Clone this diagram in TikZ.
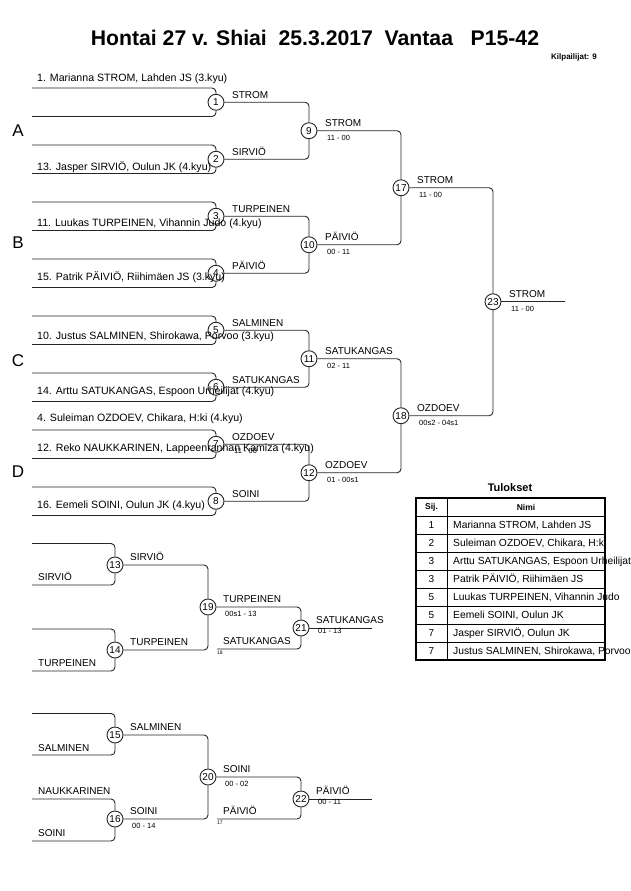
\documentclass[tikz,border=0pt]{standalone}
\usepackage{fontspec}
\setmainfont{Liberation Sans}
\begin{document}
\begin{tikzpicture}[x=1pt,y=-1pt,
  br/.style={draw=black!85, line width=0.9pt, rounded corners=4pt},
  mc/.style={circle, draw=black!85, line width=0.9pt, minimum size=16pt, inner sep=0pt, font=\fontsize{10}{10}\selectfont},
  nm/.style={anchor=base west, inner sep=0pt, font=\fontsize{10}{11}\selectfont},
  cp/.style={anchor=base west, inner sep=0pt, font=\fontsize{10.6}{11}\selectfont},
  sc/.style={anchor=base west, inner sep=0pt, font=\fontsize{7.5}{8}\selectfont},
  tn/.style={anchor=base west, inner sep=0pt, font=\fontsize{5}{5}\selectfont},
  grp/.style={anchor=center, inner sep=0pt, font=\fontsize{17}{17}\selectfont},
  tb/.style={anchor=base west, inner sep=0pt, font=\fontsize{10.3}{11}\selectfont},
  tc/.style={anchor=center, inner sep=0pt, font=\fontsize{10}{11}\selectfont},
  th/.style={anchor=center, inner sep=0pt, font=\fontsize{8.5}{10}\selectfont\bfseries},
]
\useasboundingbox (0,0) rectangle (630,891);

% ---------- title ----------
\node[inner sep=0pt, font=\fontsize{21.2}{21}\selectfont\bfseries] (title) at (315,38) {Hontai 27 v. Shiai\ \ 25.3.2017\ \ Vantaa\ \ \ P15-42};
\node[anchor=east, inner sep=0pt, font=\fontsize{8}{8}\selectfont\bfseries] (kilp) at (597,57) {Kilpailijat: 9};

% ---------- main bracket circles ----------
\node[mc] (m1) at (216,102.25) {1};
\node[mc] (m2) at (216,159.25) {2};
\node[mc] (m3) at (216,216.25) {3};
\node[mc] (m4) at (216,273.25) {4};
\node[mc] (m5) at (216,330.25) {5};
\node[mc] (m6) at (216,387.25) {6};
\node[mc] (m7) at (216,444.25) {7};
\node[mc] (m8) at (216,501.25) {8};
\node[mc] (m9) at (309,130.75) {9};
\node[mc] (m10) at (309,244.75) {10};
\node[mc] (m11) at (309,358.75) {11};
\node[mc] (m12) at (309,472.75) {12};
\node[mc] (m17) at (401,187.75) {17};
\node[mc] (m18) at (401,415.75) {18};
\node[mc] (m23) at (493,301.75) {23};

% free ends of first round
\foreach \k/\t in {1/88,2/145,3/202,4/259,5/316,6/373,7/430,8/487}{
  \coordinate (s\k t) at (32,\t);
  \coordinate (s\k b) at (32,\t+28.5);
}
\foreach \k in {1,...,8}{
  \draw[br] (s\k t) -| (m\k);
  \draw[br] (s\k b) -| (m\k);
}
\draw[br] (m1) -| (m9);  \draw[br] (m2) -| (m9);
\draw[br] (m3) -| (m10); \draw[br] (m4) -| (m10);
\draw[br] (m5) -| (m11); \draw[br] (m6) -| (m11);
\draw[br] (m7) -| (m12); \draw[br] (m8) -| (m12);
\draw[br] (m9) -| (m17);  \draw[br] (m10) -| (m17);
\draw[br] (m11) -| (m18); \draw[br] (m12) -| (m18);
\draw[br] (m17) -| (m23); \draw[br] (m18) -| (m23);
\coordinate (f23) at (565,301.75);
\draw[br] (m23) -- (f23);

% group letters
\node[grp] (gA) at (18,131) {A};
\node[grp] (gB) at (18,243) {B};
\node[grp] (gC) at (18,361) {C};
\node[grp] (gD) at (18,472) {D};

% competitors
\node[cp] (c1) at (37,81.5) {1. Marianna STROM, Lahden JS (3.kyu)};
\node[cp] (c13) at (37,170.5) {13. Jasper SIRVIÖ, Oulun JK (4.kyu)};
\node[cp] (c11) at (37,226.5) {11. Luukas TURPEINEN, Vihannin Judo (4.kyu)};
\node[cp] (c15) at (37,280.5) {15. Patrik PÄIVIÖ, Riihimäen JS (3.kyu)};
\node[cp] (c10) at (37,339.5) {10. Justus SALMINEN, Shirokawa, Porvoo (3.kyu)};
\node[cp] (c14) at (37,394.5) {14. Arttu SATUKANGAS, Espoon Urheilijat (4.kyu)};
\node[cp] (c4) at (37,421.5) {4. Suleiman OZDOEV, Chikara, H:ki (4.kyu)};
\node[cp] (c12) at (37,451.5) {12. Reko NAUKKARINEN, Lappeenrannan Kamiza (4.kyu)};
\node[cp] (c16) at (37,508) {16. Eemeli SOINI, Oulun JK (4.kyu)};

% round 1 winners
\node[nm] (w1) at (232,98.25) {STROM};
\node[nm] (w2) at (232,155.25) {SIRVIÖ};
\node[nm] (w3) at (232,212.25) {TURPEINEN};
\node[nm] (w4) at (232,269.25) {PÄIVIÖ};
\node[nm] (w5) at (232,326.25) {SALMINEN};
\node[nm] (w6) at (232,383.25) {SATUKANGAS};
\node[nm] (w7) at (232,440.25) {OZDOEV};
\node[sc] (s7) at (234,453.5) {11 - 00};
\node[nm] (w8) at (232,497.25) {SOINI};

% round 2 winners
\node[nm] (w9) at (325,126.25) {STROM};
\node[sc] (s9) at (327,140) {11 - 00};
\node[nm] (w10) at (325,240.25) {PÄIVIÖ};
\node[sc] (s10) at (327,254) {00 - 11};
\node[nm] (w11) at (325,354.25) {SATUKANGAS};
\node[sc] (s11) at (327,368) {02 - 11};
\node[nm] (w12) at (325,468.25) {OZDOEV};
\node[sc] (s12) at (327,482) {01 - 00s1};

% round 3 and final
\node[nm] (w17) at (417,183.25) {STROM};
\node[sc] (s17) at (419,197) {11 - 00};
\node[nm] (w18) at (417,411.25) {OZDOEV};
\node[sc] (s18) at (419,425) {00s2 - 04s1};
\node[nm] (w23) at (509,297.25) {STROM};
\node[sc] (s23) at (511,311) {11 - 00};

% ---------- repechage 1 ----------
\node[mc] (m13) at (115,565) {13};
\node[mc] (m14) at (115,650) {14};
\node[mc] (m19) at (208,607) {19};
\node[mc] (m21) at (301,628) {21};
\coordinate (r13t) at (32,543.5); \coordinate (r13b) at (32,585);
\coordinate (r14t) at (32,629);   \coordinate (r14b) at (32,671);
\coordinate (r21b) at (217,649);
\coordinate (f21) at (372,628);
\draw[br] (r13t) -| (m13); \draw[br] (r13b) -| (m13);
\draw[br] (r14t) -| (m14); \draw[br] (r14b) -| (m14);
\draw[br] (m13) -| (m19); \draw[br] (m14) -| (m19);
\draw[br] (m19) -| (m21); \draw[br] (r21b) -| (m21);
\draw[br] (m21) -- (f21);
\node[nm] (e13) at (38,580.2) {SIRVIÖ};
\node[nm] (e14) at (38,666.5) {TURPEINEN};
\node[nm] (w13) at (130,560.5) {SIRVIÖ};
\node[nm] (w14) at (130,645.5) {TURPEINEN};
\node[nm] (w19) at (223,602.5) {TURPEINEN};
\node[sc] (s19) at (225,616.2) {00s1 - 13};
\node[nm] (e18) at (223,644.5) {SATUKANGAS};
\node[tn] (n18) at (217,654.5) {18};
\node[nm] (w21) at (316,623.5) {SATUKANGAS};
\node[sc] (s21) at (318,633.5) {01 - 13};

% ---------- repechage 2 ----------
\node[mc] (m15) at (115,735) {15};
\node[mc] (m16) at (115,819) {16};
\node[mc] (m20) at (208,777) {20};
\node[mc] (m22) at (301,799) {22};
\coordinate (r15t) at (32,713.5); \coordinate (r15b) at (32,755);
\coordinate (r16t) at (32,799);   \coordinate (r16b) at (32,841);
\coordinate (r22b) at (217,819);
\coordinate (f22) at (372,799);
\draw[br] (r15t) -| (m15); \draw[br] (r15b) -| (m15);
\draw[br] (r16t) -| (m16); \draw[br] (r16b) -| (m16);
\draw[br] (m15) -| (m20); \draw[br] (m16) -| (m20);
\draw[br] (m20) -| (m22); \draw[br] (r22b) -| (m22);
\draw[br] (m22) -- (f22);
\node[nm] (e15) at (38,751.8) {SALMINEN};
\node[nm] (e16a) at (38,794.2) {NAUKKARINEN};
\node[nm] (e16b) at (38,836.8) {SOINI};
\node[nm] (w15) at (130,730.5) {SALMINEN};
\node[nm] (w16) at (130,814.5) {SOINI};
\node[sc] (s16) at (132,828.2) {00 - 14};
\node[nm] (w20) at (223,772.5) {SOINI};
\node[sc] (s20) at (225,786.2) {00 - 02};
\node[nm] (e17) at (223,814.5) {PÄIVIÖ};
\node[tn] (n17) at (217,824.5) {17};
\node[nm] (w22) at (316,794.5) {PÄIVIÖ};
\node[sc] (s22) at (318,804.5) {00 - 11};

% ---------- results table ----------
\node[inner sep=0pt, font=\fontsize{11}{11}\selectfont\bfseries] (tul) at (510,488) {Tulokset};
\node[th] (hs) at (431.5,507) {Sij.};
\node[th] (hn) at (526,507) {Nimi};
\foreach \i/\p/\n in {1/1/{Marianna STROM, Lahden JS},
                      2/2/{Suleiman OZDOEV, Chikara, H:ki},
                      3/3/{Arttu SATUKANGAS, Espoon Urheilijat},
                      4/3/{Patrik PÄIVIÖ, Riihimäen JS},
                      5/5/{Luukas TURPEINEN, Vihannin Judo},
                      6/5/{Eemeli SOINI, Oulun JK},
                      7/7/{Jasper SIRVIÖ, Oulun JK},
                      8/7/{Justus SALMINEN, Shirokawa, Porvoo}}{
  \node[tc] (p\i) at (431.5,{525+18*(\i-1)}) {\p};
  \node[tb] (q\i) at (453,{528.5+18*(\i-1)}) {\n};
}
\foreach \i in {0,...,7}{
  \draw[line width=0.8pt] (416,{516+18*\i}) -- (605,{516+18*\i});
}
\draw[line width=0.8pt] (447,498) -- (447,660);
\draw[line width=1.6pt] (416,498) rectangle (605,660);
\end{tikzpicture}
\end{document}
